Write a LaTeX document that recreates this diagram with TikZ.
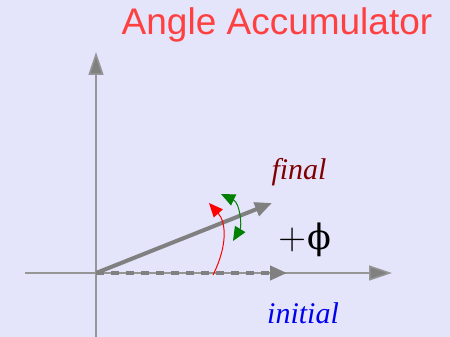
\documentclass[tikz,border=0pt]{standalone}
\usepackage{fontspec}
\setmainfont{Liberation Serif}
\newfontfamily\titlefont{Liberation Sans}
\newfontfamily\phifont{DejaVu Serif}
\usetikzlibrary{arrows.meta, positioning}

\definecolor{bgcol}{RGB}{228,228,250}
\definecolor{axiscol}{RGB}{150,150,150}
\definecolor{veccol}{RGB}{128,128,128}
\definecolor{titlecol}{RGB}{255,64,64}
\definecolor{finalcol}{RGB}{128,0,0}
\definecolor{initcol}{RGB}{0,0,240}
\definecolor{turncol}{RGB}{0,128,0}

\begin{document}
\begin{tikzpicture}[
    x=1pt, y=-1pt,
    axis/.style={draw=axiscol, line width=1.5pt,
                 -{Triangle[length=23pt, width=15pt, fill=veccol]}},
    vec/.style={draw=veccol, line width=4pt,
                -{Triangle[length=17pt, width=14pt]}},
    turn/.style={line width=1pt},
    lbl/.style={font=\fontsize{30}{33}\selectfont\itshape, inner sep=0pt},
]
\fill[bgcol] (0,0) rectangle (450,337);
\useasboundingbox (0,0) rectangle (450,337);

\coordinate (origin) at (96,273);
\coordinate (xstart) at (25,273);
\coordinate (xend) at (392,273);
\coordinate (ystart) at (96,337);
\coordinate (yend) at (96,52);
\coordinate (inittip) at (287,273);
\coordinate (finaltip) at (272,203);

\node[font=\titlefont\fontsize{37}{41}\selectfont, text=titlecol, inner sep=0pt]
    (title) at (277,25) {Angle Accumulator};

% axes
\draw[axis] (xstart) -- (xend);
\draw[axis] (ystart) -- (yend);

% vectors
\draw[vec, dash pattern=on 8pt off 7pt] (origin) -- (inittip);
\draw[vec] (origin) -- (finaltip);

% rotation marks
\coordinate (redstart) at (213,275);
\coordinate (redtip) at (209,203);
\draw[turn, red, -{Triangle[length=14pt, width=12pt]}]
    (redstart) .. controls (228,245) and (226,222) .. (redtip);
\coordinate (greena) at (221,194);
\coordinate (greenb) at (233,241);
\draw[turn, turncol, {Triangle[length=14pt, width=12pt]}-{Triangle[length=14pt, width=12pt]}]
    (greena) .. controls (240,203) and (242,226) .. (greenb);

% labels
\node[lbl, text=finalcol] (final) at (299,172) {final};
\node[lbl, text=initcol] (initial) at (303,313) {initial};
\node[font=\fontsize{20}{24}\selectfont, inner sep=0pt] (phi) at (305,240)
    {\raisebox{0.5pt}{\scalebox{1.85}{$+$}}\kern2pt{\phifont\fontsize{35}{39}\selectfont ϕ}};
\end{tikzpicture}
\end{document}
